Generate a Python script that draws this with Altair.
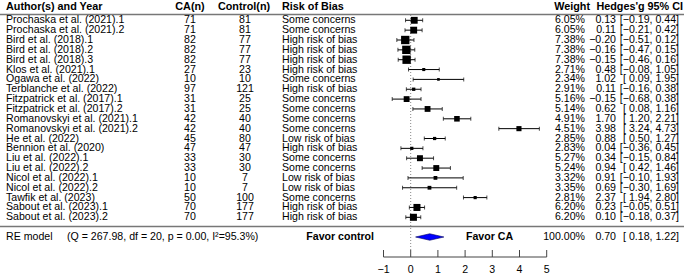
import altair as alt
import pandas as pd

authors = ["Prochaska et al. (2021).1", "Prochaska et al. (2021).2", "Bird et al. (2018).1",
           "Bird et al. (2018).2", "Bird et al. (2018).3", "Klos et al. (2021).1",
           "Ogawa et al. (2022)", "Terblanche et al. (2022)", "Fitzpatrick et al. (2017).1",
           "Fitzpatrick et al. (2017).2", "Romanovskyi et al. (2021).1", "Romanovskyi et al. (2021).2",
           "He et al. (2022)", "Bennion et al. (2020)", "Liu et al. (2022).1", "Liu et al. (2022).2",
           "Nicol et al. (2022).1", "Nicol et al. (2022).2", "Tawfik et al. (2023)",
           "Sabout et al. (2023).1", "Sabout et al. (2023).2"]
ca_n = [71, 71, 82, 82, 82, 27, 10, 97, 31, 31, 42, 42, 45, 47, 33, 33, 10, 10, 50, 70, 70]
control_n = [81, 81, 77, 77, 77, 23, 10, 121, 25, 25, 40, 40, 80, 47, 30, 30, 7, 7, 100, 177, 177]
risk = ["Some concerns", "Some concerns", "High risk of bias", "High risk of bias", "High risk of bias",
        "High risk of bias", "Some concerns", "High risk of bias", "Some concerns", "Some concerns",
        "Some concerns", "Some concerns", "Low risk of bias", "High risk of bias", "Some concerns",
        "Some concerns", "Low risk of bias", "Low risk of bias", "Some concerns", "High risk of bias",
        "High risk of bias"]
weights = [6.05, 6.05, 7.38, 7.38, 7.38, 2.71, 2.34, 2.91, 5.16, 5.14, 4.91, 4.51, 2.85, 2.83,
           5.27, 5.24, 3.32, 3.35, 2.81, 6.20, 6.20]
hedges_g = [0.13, 0.11, -0.20, -0.16, -0.15, 0.48, 1.02, 0.11, -0.15, 0.62, 1.70, 3.98, 0.88, 0.04,
            0.34, 0.94, 0.91, 0.69, 2.37, 0.23, 0.10]
ci_lo = [-0.19, -0.21, -0.51, -0.47, -0.46, -0.08, 0.09, -0.16, -0.68, 0.08, 1.20, 3.24, 0.50, -0.36,
         -0.15, 0.42, -0.10, -0.30, 1.94, -0.05, -0.18]
ci_hi = [0.44, 0.42, 0.12, 0.15, 0.16, 1.05, 1.95, 0.38, 0.38, 1.16, 2.21, 4.73, 1.27, 0.45, 0.84,
         1.46, 1.93, 1.69, 2.80, 0.51, 0.37]

re_label = "RE model"
re_stats = "(Q = 267.98, df = 20, p = 0.00, I²=95.3%)"
re_weight = 100.00
re_g = 0.70
re_lo = 0.18
re_hi = 1.22

axis_ticks = [-1, 0, 1, 2, 3, 4, 5]
axis_labels = ["−1", "0", "1", "2", "3", "4", "5"]
null_effect = 0

FONT = "Liberation Sans"
FS = 10.6
HFS = 10.8


def fmt(v):
    return f"{v:.2f}".replace("-", "−")


def ci_text(lo, hi):
    return "[" + (" " if lo >= 0 else "") + fmt(lo) + ", " + fmt(hi) + "]"


n = len(authors)
rows = list(range(1, n + 1))
RE_ROW = n + 2

df = pd.DataFrame({
    "row": rows,
    "author": authors,
    "ca": [str(v) for v in ca_n],
    "ctrl": [str(v) for v in control_n],
    "risk": risk,
    "w": weights,
    "wtxt": [f"{v:.2f}%" for v in weights],
    "g": hedges_g,
    "gtxt": [fmt(v) for v in hedges_g],
    "lo": ci_lo,
    "hi": ci_hi,
    "citxt": [ci_text(a, b) for a, b in zip(ci_lo, ci_hi)],
})

xs = alt.Scale(domain=[-1, 5], range=[383.5, 546.7])
ys = alt.Scale(domain=[1, n], range=[20.3, 20.3 + (n - 1) * 9.85])


def X(f):
    return alt.X(f, scale=xs, axis=None)


def Y(f):
    return alt.Y(f, scale=ys, axis=None)


base = alt.Chart(df)


def col_text(field, x, align):
    return base.mark_text(align=align, baseline="middle", font=FONT, fontSize=FS, color="black").encode(
        x=alt.value(x), y=Y("row:Q"), text=f"{field}:N")


def label(txt, x, y, align="left", bold=False, size=FS):
    return alt.Chart(pd.DataFrame({"t": [txt]})).mark_text(
        align=align, baseline="middle", font=FONT, fontSize=size,
        fontWeight="bold" if bold else "normal", color="black").encode(
        x=alt.value(x), y=alt.value(y), text="t:N")


one = pd.DataFrame({"k": [0]})
null_df = pd.DataFrame({"z": [null_effect]})
axis_span = pd.DataFrame({"a": [axis_ticks[0]], "b": [axis_ticks[-1]]})

layers = []
layers += [
    label("Author(s) and Year", 6, 7, bold=True, size=HFS),
    label("CA(n)", 190, 7, align="center", bold=True, size=HFS),
    label("Control(n)", 244, 7, align="center", bold=True, size=HFS),
    label("Risk of Bias", 282, 7, bold=True, size=HFS),
    label("Weight", 590, 7, align="right", bold=True, size=HFS),
    label("Hedges'g 95% CI", 683, 7, align="right", bold=True, size=HFS),
]
layers += [
    alt.Chart(one).mark_rule(color="#777", strokeWidth=1.5).encode(
        x=alt.value(0), x2=alt.value(684), y=alt.value(14.5)),
    alt.Chart(one).mark_rule(color="#777", strokeWidth=1.5).encode(
        x=alt.value(0), x2=alt.value(684), y=alt.value(226.5)),
    alt.Chart(null_df).mark_rule(color="#888", strokeDash=[1, 2], strokeWidth=1).encode(
        x=X("z:Q"), y=alt.value(15), y2=alt.value(252)),
]
layers += [
    col_text("author", 6, "left"),
    col_text("ca", 190, "center"),
    col_text("ctrl", 245, "center"),
    col_text("risk", 282, "left"),
    col_text("wtxt", 585, "right"),
    col_text("gtxt", 616, "right"),
    col_text("citxt", 679, "right"),
]
layers += [
    base.mark_rule(color="black", strokeWidth=1).encode(x=X("lo:Q"), x2="hi:Q", y=Y("row:Q")),
    base.mark_tick(orient="vertical", size=4, thickness=1, color="black").encode(x=X("lo:Q"), y=Y("row:Q")),
    base.mark_tick(orient="vertical", size=4, thickness=1, color="black").encode(x=X("hi:Q"), y=Y("row:Q")),
    base.mark_square(filled=True, color="black", opacity=1).encode(
        x=X("g:Q"), y=Y("row:Q"),
        size=alt.Size("w:Q", scale=alt.Scale(type="pow", exponent=2, domain=[0, 7.38], range=[0, 70]),
                      legend=None)),
]
re_y = 20.3 + (RE_ROW - 1) * 9.85
diamond = pd.DataFrame({
    "x": [re_lo, re_g, re_hi],
    "y1": [RE_ROW, RE_ROW - 0.33, RE_ROW],
    "y2": [RE_ROW, RE_ROW + 0.33, RE_ROW],
})
layers += [
    alt.Chart(diamond).mark_area(color="#0000ff", stroke="#000060", strokeWidth=0.6, opacity=1).encode(
        x=X("x:Q"), y=Y("y1:Q"), y2="y2:Q"),
    label(re_label, 6, re_y),
    label(re_stats, 67, re_y),
    label("Favor control", 374, re_y, align="right", bold=True),
    label("Favor CA", 466, re_y, bold=True),
    label(f"{re_weight:.2f}%", 585, re_y, align="right"),
    label(fmt(re_g), 616, re_y, align="right"),
    label(ci_text(re_lo, re_hi), 679, re_y, align="right"),
]
tick_df = pd.DataFrame({"t": axis_ticks, "lab": axis_labels})
layers += [
    alt.Chart(axis_span).mark_rule(color="#444", strokeWidth=1).encode(
        x=X("a:Q"), x2="b:Q", y=alt.value(257)),
    alt.Chart(tick_df).mark_rule(color="#444", strokeWidth=1).encode(
        x=X("t:Q"), y=alt.value(250), y2=alt.value(257)),
    alt.Chart(tick_df).mark_text(font=FONT, fontSize=FS, baseline="middle", color="black").encode(
        x=X("t:Q"), y=alt.value(269.5), text="lab:N"),
]

chart = alt.layer(*layers).properties(
    width=684, height=276, autosize=alt.AutoSizeParams(type="none"), padding=0,
    background="white"
).configure_view(stroke=None)

chart.save("out.html", embed_options={"renderer": "svg", "actions": False})
